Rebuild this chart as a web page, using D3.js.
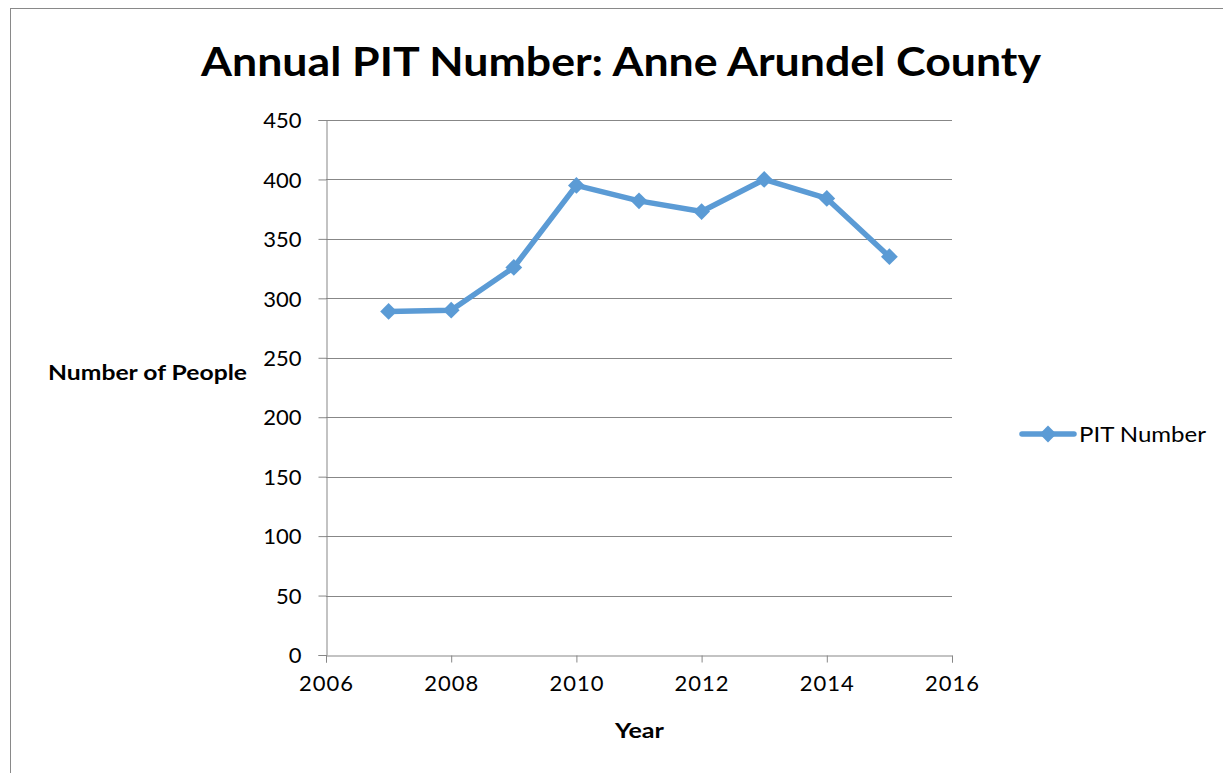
<!DOCTYPE html>
<html>
<head>
<meta charset="utf-8">
<script src="https://cdn.jsdelivr.net/npm/d3@7"></script>
<style>
  body { margin: 0; background: #fff; }
  svg { display: block; font-family: Lato, "Open Sans", sans-serif; }
</style>
</head>
<body>
<script>
// Data
const years = [2007, 2008, 2009, 2010, 2011, 2012, 2013, 2014, 2015];
const pitNumber = [289, 290, 326, 395, 382, 373, 400, 384, 335];
const yTicks = [0, 50, 100, 150, 200, 250, 300, 350, 400, 450];
const xTicks = [2006, 2008, 2010, 2012, 2014, 2016];
const seriesName = "PIT Number";

const W = 1223, H = 773;
const plot = { left: 326, right: 952, top: 120, bottom: 655 };
const blue = "#5B9BD5";
const gridColor = "#878787";

const svg = d3.select("body").append("svg")
    .attr("width", W)
    .attr("height", H);

// chart frame (runs off the picture on the right and bottom)
svg.append("rect")
    .attr("x", 10.5).attr("y", 8.5)
    .attr("width", W + 20).attr("height", H + 20)
    .attr("fill", "#fff")
    .attr("stroke", "#898989")
    .attr("stroke-width", 1);

const x = d3.scaleLinear().domain([2006, 2016]).range([plot.left, plot.right]);
const y = d3.scaleLinear().domain([0, 450]).range([plot.bottom, plot.top]);

// Horizontal grid
svg.append("g")
    .selectAll("line")
    .data(yTicks.filter(d => d > 0))
    .join("line")
    .attr("x1", plot.left)
    .attr("x2", plot.right)
    .attr("y1", d => Math.round(y(d)) + 0.5)
    .attr("y2", d => Math.round(y(d)) + 0.5)
    .attr("stroke", gridColor)
    .attr("stroke-width", 1);

// Y axis
const yAxis = svg.append("g")
    .attr("transform", `translate(${plot.left + 0.5},0)`)
    .call(d3.axisLeft(y).tickValues(yTicks).tickSize(8).tickPadding(17).tickFormat(d3.format("d")));
yAxis.select(".domain").attr("stroke", gridColor);
yAxis.selectAll(".tick line").attr("stroke", gridColor);
yAxis.selectAll(".tick text")
    .attr("font-size", 22)
    .attr("fill", "#000")
    .attr("font-family", "Lato, sans-serif")
    .attr("dy", "0.35em");

// X axis
const xAxis = svg.append("g")
    .attr("transform", `translate(0,${Math.round(plot.bottom) + 0.5})`)
    .call(d3.axisBottom(x).tickValues(xTicks).tickSize(7).tickPadding(13).tickFormat(d3.format("d")));
xAxis.select(".domain").attr("stroke", gridColor);
xAxis.selectAll(".tick line").attr("stroke", gridColor);
xAxis.selectAll(".tick text")
    .attr("font-size", 22)
    .attr("fill", "#000")
    .attr("font-family", "Lato, sans-serif")
    .attr("letter-spacing", 1);

// Line
const pts = years.map((yr, i) => ({ yr, v: pitNumber[i] }));
svg.append("path")
    .datum(pts)
    .attr("fill", "none")
    .attr("stroke", blue)
    .attr("stroke-width", 5.5)
    .attr("stroke-linejoin", "round")
    .attr("d", d3.line().x(d => x(d.yr)).y(d => y(d.v)));

// Diamond markers
const diamond = d3.symbol().type(d3.symbolDiamond2).size(180);
svg.append("g")
    .selectAll("path")
    .data(pts)
    .join("path")
    .attr("d", diamond)
    .attr("transform", d => `translate(${x(d.yr)},${y(d.v)})`)
    .attr("fill", blue);

// Title
svg.append("text")
    .attr("x", 201)
    .attr("y", 76)
    .attr("font-size", 40)
    .attr("font-weight", "bold")
    .attr("textLength", 840)
    .attr("lengthAdjust", "spacingAndGlyphs")
    .text("Annual PIT Number: Anne Arundel County");

// Axis titles
svg.append("text")
    .attr("x", 48)
    .attr("y", 380)
    .attr("font-size", 21)
    .attr("font-weight", "bold")
    .attr("textLength", 199)
    .attr("lengthAdjust", "spacingAndGlyphs")
    .text("Number of People");

svg.append("text")
    .attr("x", 615)
    .attr("y", 738)
    .attr("font-size", 21)
    .attr("font-weight", "bold")
    .attr("textLength", 49)
    .attr("lengthAdjust", "spacingAndGlyphs")
    .text("Year");

// Legend
const lg = svg.append("g").attr("transform", "translate(1020,434)");
lg.append("line")
    .attr("x1", 2).attr("x2", 54)
    .attr("y1", 0).attr("y2", 0)
    .attr("stroke", blue)
    .attr("stroke-width", 5.5)
    .attr("stroke-linecap", "round");
lg.append("path")
    .attr("d", diamond)
    .attr("transform", "translate(28,0)")
    .attr("fill", blue);
lg.append("text")
    .attr("x", 59)
    .attr("y", 8)
    .attr("font-size", 22)
    .attr("textLength", 127)
    .attr("lengthAdjust", "spacingAndGlyphs")
    .text(seriesName);
</script>
</body>
</html>
